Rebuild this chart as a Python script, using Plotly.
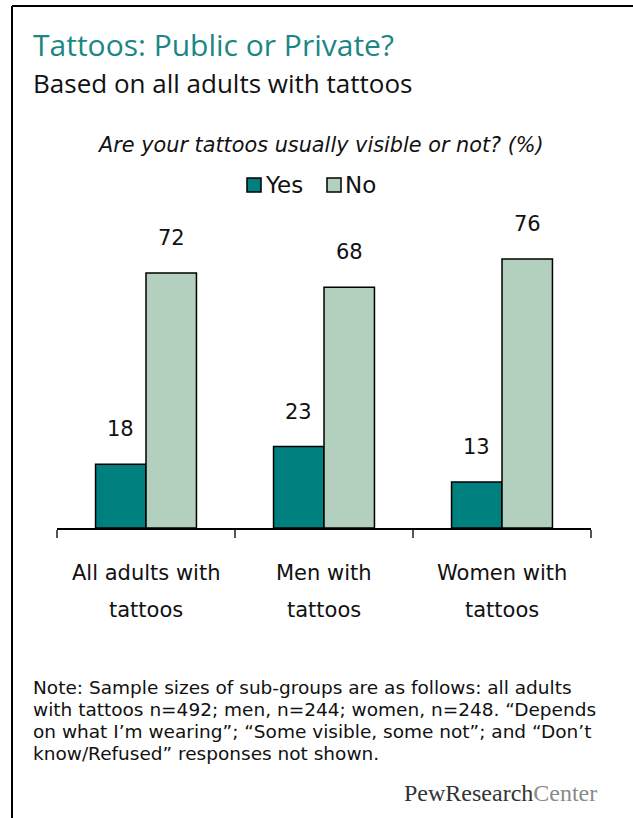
import plotly.graph_objects as go

categories = ["All adults with<br>tattoos", "Men with<br>tattoos", "Women with<br>tattoos"]
series_names = ["Yes", "No"]
yes_values = [18, 23, 13]
no_values = [72, 68, 76]
series_colors = ["#007F7F", "#B3D0BE"]

title_text = "Tattoos: Public or Private?"
subtitle_text = "Based on all adults with tattoos"
question_text = "Are your tattoos usually visible or not? (%)"
note_lines = [
    "Note: Sample sizes of sub-groups are as follows: all adults",
    "with tattoos n=492; men, n=244; women, n=248. \u201cDepends",
    "on what I\u2019m wearing\u201d; \u201cSome visible, some not\u201d; and \u201cDon\u2019t",
    "know/Refused\u201d responses not shown.",
]

W, H = 633, 818
FONT = "DejaVu Sans"
TFONT = "Open Sans"
BARGAP = 0.433


def py(px):
    return 1 - px / H


def pxx(px):
    return px / W


fig = go.Figure()
for name, vals, col in zip(series_names, [yes_values, no_values], series_colors):
    fig.add_trace(go.Bar(
        x=categories, y=vals, name=name,
        marker=dict(color=col, line=dict(color="#000000", width=1.5)),
        showlegend=False, hoverinfo="skip",
    ))

annotations = []
# value labels above bars
half = (1 - BARGAP) / 4
offsets = [-half, half]
for vals, off in zip([yes_values, no_values], offsets):
    for i, v in enumerate(vals):
        annotations.append(dict(
            x=i + off, y=v, xref="x", yref="y", text=str(v), showarrow=False,
            yanchor="middle", yshift=35,
            font=dict(family=FONT, size=21, color="#111111"),
        ))

# category labels (two lines with wide spacing)
for i, c in enumerate(categories):
    lines = c.split("<br>")
    for j, ln in enumerate(lines):
        annotations.append(dict(
            x=i, y=py(573 + 37 * j), xref="x", yref="paper", text=ln,
            showarrow=False, yanchor="middle", xanchor="center",
            font=dict(family=FONT, size=21, color="#111111"),
        ))

# title, subtitle, question
annotations.append(dict(x=pxx(31), y=py(45), xref="paper", yref="paper", text=title_text,
                        showarrow=False, xanchor="left", yanchor="middle",
                        font=dict(family=TFONT, size=30, color="#1A8784")))
annotations.append(dict(x=pxx(31), y=py(83), xref="paper", yref="paper", text=subtitle_text,
                        showarrow=False, xanchor="left", yanchor="middle",
                        font=dict(family=TFONT, size=26, color="#111111")))
annotations.append(dict(x=pxx(320), y=py(145), xref="paper", yref="paper",
                        text="<i>" + question_text + "</i>",
                        showarrow=False, xanchor="center", yanchor="middle",
                        font=dict(family=FONT, size=20.8, color="#111111")))

# legend (manual)
shapes = []
leg_x = [247, 327]
for name, col, lx in zip(series_names, series_colors, leg_x):
    shapes.append(dict(type="rect", xref="paper", yref="paper",
                       x0=pxx(lx), x1=pxx(lx + 14), y0=py(192), y1=py(178),
                       fillcolor=col, line=dict(color="#000000", width=1.5)))
    annotations.append(dict(x=pxx(lx + 16), y=py(185), xref="paper", yref="paper", text=name,
                            showarrow=False, xanchor="left", yanchor="middle",
                            font=dict(family=FONT, size=23, color="#111111")))

# note lines
for k, ln in enumerate(note_lines):
    annotations.append(dict(x=pxx(31), y=py(687 + 22 * k), xref="paper", yref="paper", text=ln,
                            showarrow=False, xanchor="left", yanchor="middle",
                            font=dict(family=FONT, size=18.5, color="#111111")))

# logo
annotations.append(dict(x=pxx(599), y=py(793), xref="paper", yref="paper",
                        text="PewResearch<span style='color:#8a8a8a'>Center</span>",
                        showarrow=False, xanchor="right", yanchor="middle",
                        font=dict(family="Liberation Serif", size=24, color="#333333")))

# frame lines
shapes.append(dict(type="line", xref="paper", yref="paper", x0=pxx(12), x1=1.0,
                   y0=py(6), y1=py(6), line=dict(color="#000000", width=2)))
shapes.append(dict(type="line", xref="paper", yref="paper", x0=pxx(12), x1=pxx(12),
                   y0=py(6), y1=0, line=dict(color="#000000", width=2)))

fig.update_layout(
    width=W, height=H,
    margin=dict(l=0, r=0, t=0, b=0),
    paper_bgcolor="white", plot_bgcolor="white",
    barmode="group", bargap=BARGAP, bargroupgap=0,
    annotations=annotations, shapes=shapes,
    showlegend=False,
    xaxis=dict(domain=[pxx(57), pxx(591)], showticklabels=False, showline=True,
               linecolor="#000000", linewidth=1.5, ticks="outside", tickson="boundaries",
               ticklen=8, tickcolor="#555555", tickwidth=1.5, showgrid=False,
               range=[-0.5, 2.5], fixedrange=True),
    yaxis=dict(domain=[py(528), py(528 - 90 * 3.54)], range=[0, 90], visible=False,
               showgrid=False, zeroline=False, fixedrange=True),
)

fig.write_html("out.html", config={"displayModeBar": False},
               post_script="document.body.style.margin='0';document.body.style.overflow='hidden';")
